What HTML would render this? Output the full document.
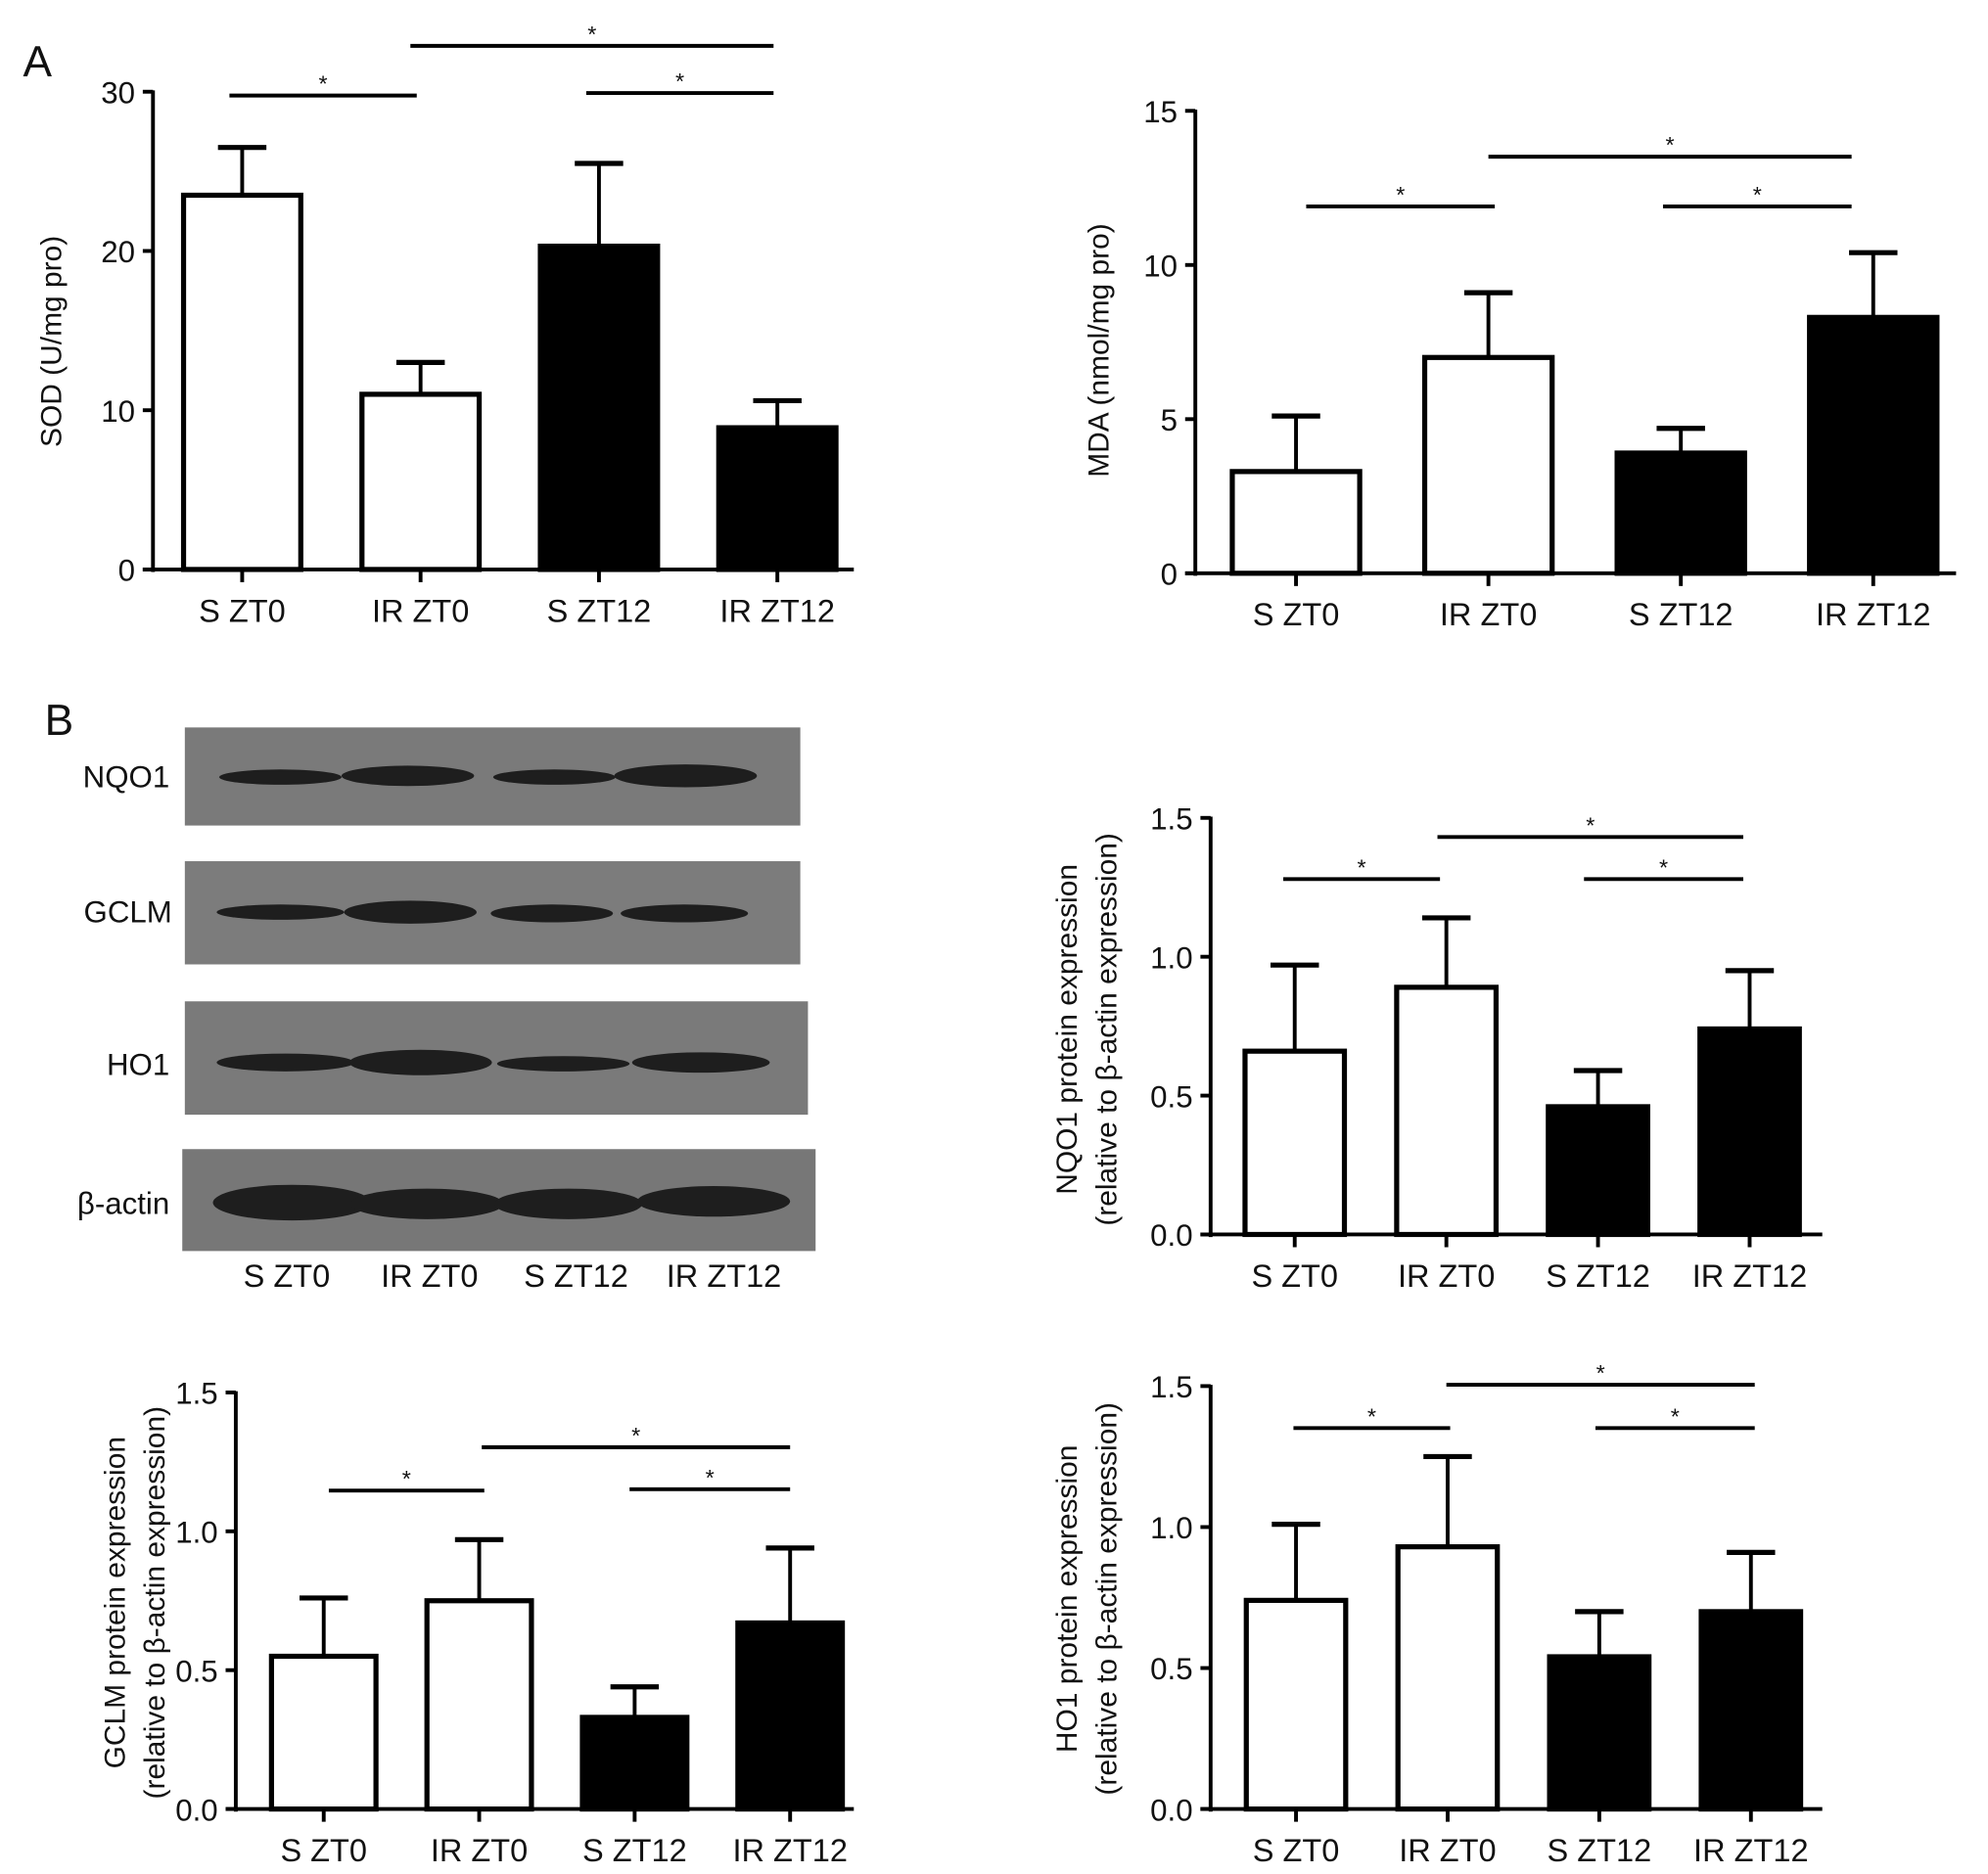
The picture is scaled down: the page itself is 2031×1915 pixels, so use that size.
<!DOCTYPE html>
<html><head><meta charset="utf-8"><style>
html,body{margin:0;padding:0;background:#fff;}
svg{display:block;}
text{font-family:"Liberation Sans",sans-serif;fill:#111;}
</style></head><body>
<svg id="fig" width="2031" height="1915" viewBox="0 0 1560 1471" xmlns="http://www.w3.org/2000/svg">
<text x="18" y="60" font-size="34">A</text>
<text x="35" y="577" font-size="34">B</text>
<g id="blot">
<rect x="145" y="571" width="483" height="77" fill="#7a7a7a"/>
<rect x="145" y="676" width="483" height="81" fill="#7c7c7c"/>
<rect x="145" y="786" width="489" height="89" fill="#7a7a7a"/>
<rect x="143" y="902" width="497" height="80" fill="#777"/>
<g fill="#1e1e1e">
<ellipse cx="220" cy="610" rx="48" ry="6"/><ellipse cx="320" cy="609" rx="52" ry="8"/><ellipse cx="435" cy="610" rx="48" ry="6"/><ellipse cx="538" cy="609" rx="56" ry="9"/>
<ellipse cx="220" cy="716" rx="50" ry="6"/><ellipse cx="322" cy="716" rx="52" ry="9"/><ellipse cx="433" cy="717" rx="48" ry="7"/><ellipse cx="537" cy="717" rx="50" ry="7"/>
<ellipse cx="224" cy="834" rx="54" ry="7"/><ellipse cx="330" cy="834" rx="56" ry="10"/><ellipse cx="442" cy="835" rx="52" ry="6"/><ellipse cx="550" cy="834" rx="54" ry="8"/>
<ellipse cx="229" cy="944" rx="62" ry="14"/><ellipse cx="335" cy="945" rx="60" ry="12"/><ellipse cx="446" cy="945" rx="58" ry="12"/><ellipse cx="560" cy="943" rx="60" ry="12"/>
</g>
<g font-size="24" text-anchor="end">
<text x="133" y="618">NQO1</text><text x="135" y="724">GCLM</text><text x="133" y="844">HO1</text><text x="133" y="953">β-actin</text>
</g>
<g font-size="25" text-anchor="middle">
<text x="225" y="1010">S ZT0</text><text x="337" y="1010">IR ZT0</text><text x="452" y="1010">S ZT12</text><text x="568" y="1010">IR ZT12</text>
</g>
</g>
</svg>
<script>
var categories = ["S ZT0","IR ZT0","S ZT12","IR ZT12"];
var sodValues = [23.5, 11.0, 20.3, 8.9];
var sodErrors = [3.0, 2.0, 5.2, 1.7];
var sodTicks = ["0","10","20","30"];
var mdaValues = [3.3, 7.0, 3.9, 8.3];
var mdaErrors = [1.8, 2.1, 0.8, 2.1];
var mdaTicks = ["0","5","10","15"];
var nqoValues = [0.66, 0.89, 0.46, 0.74];
var nqoErrors = [0.31, 0.25, 0.13, 0.21];
var gclmValues = [0.55, 0.75, 0.33, 0.67];
var gclmErrors = [0.21, 0.22, 0.11, 0.27];
var hoValues = [0.74, 0.93, 0.54, 0.70];
var hoErrors = [0.27, 0.32, 0.16, 0.21];
var ratioTicks = ["0.0","0.5","1.0","1.5"];
var fills = ["#fff","#fff","#000","#000"];

var NS="http://www.w3.org/2000/svg";
var svg=document.getElementById('fig');
function mk(tag,attrs,parent){var e=document.createElementNS(NS,tag);for(var k in attrs)e.setAttribute(k,attrs[k]);(parent||svg).appendChild(e);return e;}

function chart(cfg){
  var g=mk('g',{});
  
  
  var max=parseFloat(cfg.ticks[cfg.ticks.length-1]);
  function y(v){return cfg.y0-(cfg.y0-cfg.yTop)*v/max;}
  var step=(cfg.xEnd-cfg.x0)/4;
  function xc(i){return cfg.x0+cfg.firstC+i*cfg.spacing;}
  // axes
  var ya=mk('line',{x1:cfg.x0,y1:cfg.yTop-1,x2:cfg.x0,y2:cfg.y0+2,stroke:'#000','stroke-width':3},g);
  
  
  var xa=mk('line',{x1:cfg.x0-8,y1:cfg.y0,x2:cfg.xEnd,y2:cfg.y0,stroke:'#000','stroke-width':3},g);
  
  
  cfg.ticks.forEach(function(t){
    var v=parseFloat(t),yy=y(v);
    mk('line',{x1:cfg.x0-8,y1:yy,x2:cfg.x0,y2:yy,stroke:'#000','stroke-width':3},g);
    var tx=mk('text',{x:cfg.x0-14,y:yy+9,'font-size':24,'text-anchor':'end'},g);
    tx.textContent=t;
    
    
  });
  categories.forEach(function(c,i){
    var cx=xc(i),v=cfg.values[i],e=cfg.errors[i];
    var top=y(v+e);
    mk('line',{x1:cx,y1:y(v),x2:cx,y2:top,stroke:'#000','stroke-width':3},g);
    mk('line',{x1:cx-19,y1:top,x2:cx+19,y2:top,stroke:'#000','stroke-width':4},g);
    var r=mk('rect',{x:cx-cfg.bw/2+2,y:y(v),width:cfg.bw-4,height:cfg.y0-y(v),fill:fills[i],stroke:'#000','stroke-width':4},g);
    
    
    mk('line',{x1:cx,y1:cfg.y0,x2:cx,y2:cfg.y0+10,stroke:'#000','stroke-width':3},g);
    var lt=mk('text',{x:cx,y:cfg.y0+41,'font-size':25,'text-anchor':'middle'},g);
    lt.textContent=c;
    
    
  });
  cfg.sig.forEach(function(s){
    mk('line',{x1:s[0],y1:s[2],x2:s[1],y2:s[2],stroke:'#000','stroke-width':3},g);
    var st=mk('text',{x:(s[0]+s[1])/2,y:s[2]-3,'font-size':18,'text-anchor':'middle'},g);
    st.textContent='*';
    
    
  });
  cfg.title.forEach(function(t,k){
    var tx=cfg.titleX+k*31,ty=cfg.titleY;
    var tt=mk('text',{x:tx,y:ty,'font-size':23,'text-anchor':'middle',transform:'rotate(-90 '+tx+' '+ty+')'},g);
    tt.textContent=t;
    
    
  });
}
chart({name:'sod-chart',x0:120,xEnd:670,y0:447,yTop:72,firstC:70,spacing:140,bw:96,values:sodValues,errors:sodErrors,ticks:sodTicks,
  sig:[[180,327,75],[322,607,36],[460,607,73]],title:['SOD (U/mg pro)'],titleX:48,titleY:268});
chart({name:'mda-chart',x0:938,xEnd:1535,y0:450,yTop:87,firstC:79,spacing:151,bw:104,values:mdaValues,errors:mdaErrors,ticks:mdaTicks,
  sig:[[1025,1173,162],[1168,1453,123],[1305,1453,162]],title:['MDA (nmol/mg pro)'],titleX:870,titleY:275});
chart({name:'nqo1-chart',x0:950,xEnd:1430,y0:969,yTop:642,firstC:66,spacing:119,bw:82,values:nqoValues,errors:nqoErrors,ticks:ratioTicks,
  sig:[[1007,1130,690],[1128,1368,657],[1243,1368,690]],title:['NQO1 protein expression','(relative to β-actin expression)'],titleX:845,titleY:808});
chart({name:'gclm-chart',x0:185,xEnd:670,y0:1420,yTop:1093,firstC:69,spacing:122,bw:86,values:gclmValues,errors:gclmErrors,ticks:ratioTicks,
  sig:[[258,380,1170],[378,620,1136],[494,620,1169]],title:['GCLM protein expression','(relative to β-actin expression)'],titleX:98,titleY:1258});
chart({name:'ho1-chart',x0:950,xEnd:1430,y0:1420,yTop:1088,firstC:67,spacing:119,bw:82,values:hoValues,errors:hoErrors,ticks:ratioTicks,
  sig:[[1015,1138,1121],[1135,1377,1087],[1252,1377,1121]],title:['HO1 protein expression','(relative to β-actin expression)'],titleX:845,titleY:1255});
</script>
</body></html>
